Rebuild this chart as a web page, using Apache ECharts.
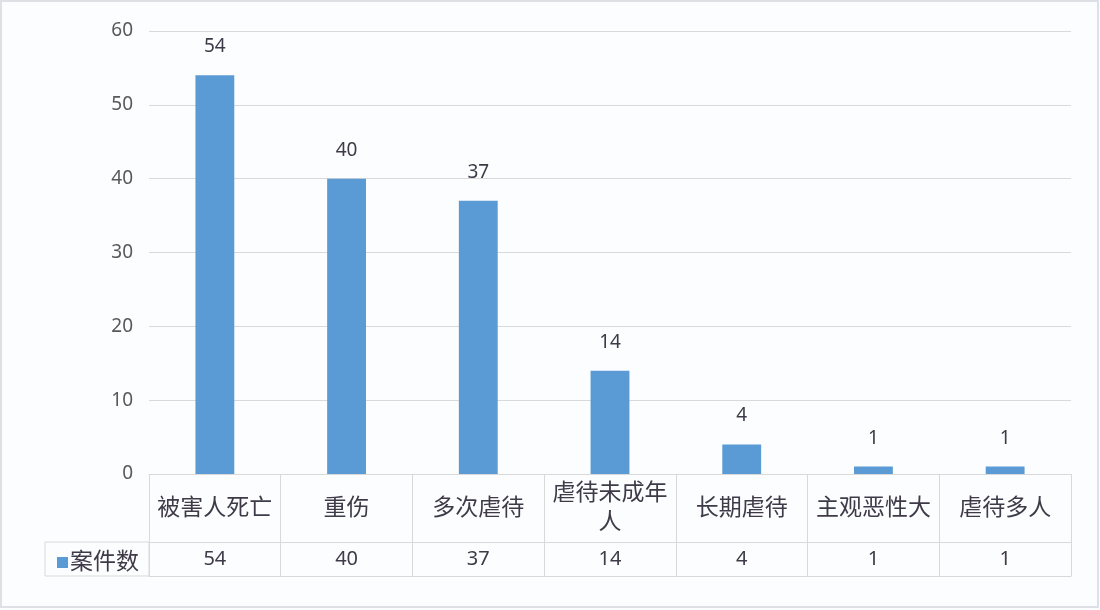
<!DOCTYPE html>
<html><head><meta charset="utf-8">
<script src="https://cdn.jsdelivr.net/npm/echarts@6/dist/echarts.min.js"></script>
<style>html,body{margin:0;padding:0;background:#fcfdfe}#c{width:1100px;height:610px}</style>
</head><body><div id="c"></div>
<script>
const categories = ['被害人死亡', '重伤', '多次虐待', '虐待未成年人', '长期虐待', '主观恶性大', '虐待多人'];
const caseCounts = [54, 40, 37, 14, 4, 1, 1];
const seriesName = '案件数';
const yTicks = { min: 0, max: 60, interval: 10 };

const FONT = "'Noto Sans', 'Noto Sans CJK SC', sans-serif";
const LINE = '#d9d9d9';
const TXT = '#3f3a48';
const chart = echarts.init(document.getElementById('c'));
chart.setOption({
  backgroundColor: '#fcfdfe',
  animation: false,
  textStyle: { fontFamily: FONT },
  grid: { left: 149, right: 29, top: 31, bottom: 136 },
  legend: {
    data: [seriesName], left: 52, top: 546, icon: 'rect', itemWidth: 11, itemHeight: 11, itemGap: 2,
    textStyle: { fontSize: 23, color: TXT, fontFamily: FONT, padding: [0, 0, 0, -3] }
  },
  xAxis: [
    {
      type: 'category', data: categories, position: 'bottom',
      axisLine: { show: true, lineStyle: { color: LINE } },
      axisTick: { show: true, length: 68, interval: 0, lineStyle: { color: LINE } },
      axisLabel: { interval: 0, fontSize: 23, color: TXT, width: 120, overflow: 'break', lineHeight: 29, verticalAlign: 'middle', margin: 34 }
    },
    {
      type: 'category', data: categories, position: 'bottom', offset: 68,
      axisLine: { show: true, lineStyle: { color: LINE } },
      axisTick: { show: true, length: 34, interval: 0, lineStyle: { color: LINE } },
      axisLabel: { interval: 0, fontSize: 20, color: TXT, verticalAlign: 'middle', margin: 17,
        formatter: (v, i) => String(caseCounts[i]) }
    },
    {
      type: 'category', data: categories, position: 'bottom', offset: 102,
      axisLine: { show: true, lineStyle: { color: LINE } },
      axisTick: { show: false }, axisLabel: { show: false }
    }
  ],
  yAxis: {
    type: 'value', min: yTicks.min, max: yTicks.max, interval: yTicks.interval,
    axisLine: { show: false }, axisTick: { show: false },
    axisLabel: { fontSize: 19, color: '#595959', margin: 16 },
    splitLine: { lineStyle: { color: LINE } }
  },
  series: [{
    name: seriesName, type: 'bar', data: caseCounts, barWidth: '29.5%',
    itemStyle: { color: '#5B9BD5' },
    label: { show: true, position: 'top', distance: 19, fontSize: 19, color: TXT }
  }],
  graphic: [
    { type: 'rect', shape: { x: 45, y: 542, width: 104, height: 34 }, style: { fill: 'none', stroke: LINE, lineWidth: 1 }, silent: true },
    { type: 'rect', shape: { x: 1, y: 1, width: 1097, height: 606 }, style: { fill: 'none', stroke: '#dde1e6', lineWidth: 2 }, silent: true }
  ]
});
</script></body></html>
